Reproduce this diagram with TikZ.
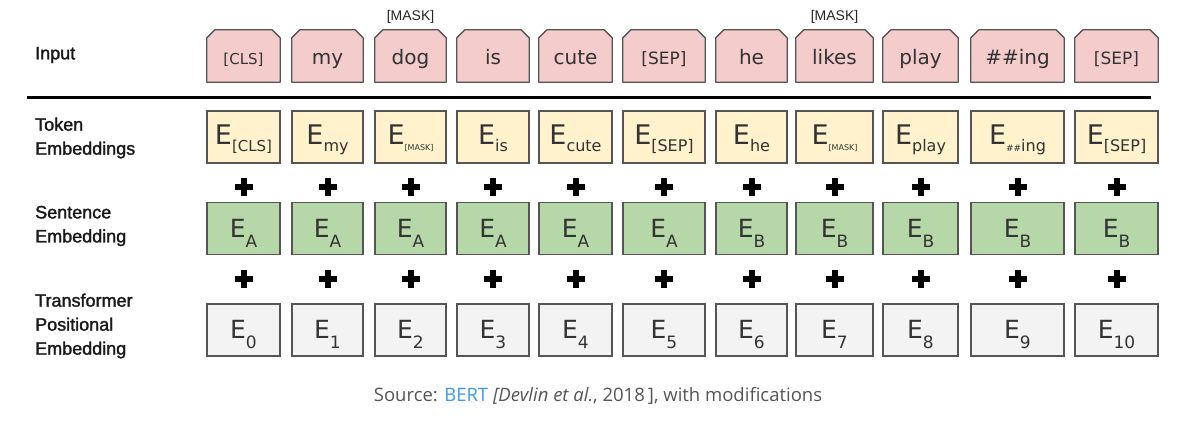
\documentclass[tikz,border=0pt]{standalone}
\usepackage{fontspec}
\setmainfont{Liberation Sans}
\newfontfamily\labfont{Liberation Sans}[FakeBold=1.6]
\newfontfamily\vfont{DejaVu Sans}
\newfontfamily\capfont{Open Sans}
\usetikzlibrary{backgrounds}
\definecolor{pinkf}{HTML}{F4CCCC}
\definecolor{yellf}{HTML}{FFF2CC}
\definecolor{greenf}{HTML}{B6D7A8}
\definecolor{grayf}{HTML}{F3F3F3}
\definecolor{bord}{HTML}{555555}
\definecolor{boxtext}{HTML}{333333}
\definecolor{capgray}{HTML}{555555}
\definecolor{bertblue}{HTML}{3D9BE9}
\newcommand{\Esb}[4]{{\fontsize{#1}{#1}\selectfont E}\raisebox{-#2pt}{\fontsize{#3}{#3}\selectfont #4}}
\newcommand{\tw}[2]{{\fontsize{#1}{#1}\selectfont #2}}
\tikzset{
  basebox/.style={draw=bord, line width=1.3pt, inner sep=0pt, minimum height=52pt, text=boxtext, font=\vfont},
  inbox/.style={inner sep=0pt, minimum height=52pt, text=boxtext, font=\vfont, text height=18pt, text depth=0pt},
  chamf/.style={draw=bord, line width=1.3pt, fill=pinkf, line join=round},
  tokbox/.style={basebox, fill=yellf, text height=16pt, text depth=0pt},
  segbox/.style={basebox, fill=greenf, text height=19pt, text depth=0pt},
  posbox/.style={basebox, fill=grayf, text height=16pt, text depth=0pt},
  rowlabel/.style={anchor=west, align=left, font=\labfont\fontsize{18}{24}\selectfont, text=black!90, inner sep=0pt},
  masklabel/.style={font=\fontsize{14}{14}\selectfont, text=black!85, inner sep=0pt},
}
\begin{document}
\begin{tikzpicture}[x=1pt,y=-1pt]
\begin{pgfonlayer}{background}
\fill[white] (0,0) rectangle (1184,422);
\end{pgfonlayer}
\useasboundingbox (0,0) rectangle (1184,422);
% row labels
\node[rowlabel] (lin) at (35,55) {Input};
\node[rowlabel] (ltok) at (35,138) {Token\\Embeddings};
\node[rowlabel] (lseg) at (35,226) {Sentence\\Embedding};
\node[rowlabel] (lpos) at (35,326) {Transformer\\Positional\\Embedding};
% separator
\draw[line width=3pt] (27,97.5) -- (1151,97.5);
% columns
\foreach \i/\l/\r/\word/\tok/\seg/\pos in {
  1/207/280/{\tw{15}{[CLS]}}/{\Esb{27}{7}{15}{[CLS]}}/A/0,
  2/292/363/{\tw{20}{my}}/{\Esb{27}{7}{16}{my}}/A/1,
  3/375/446/{\tw{20}{dog}}/{\Esb{27}{6}{8}{[MASK]}}/A/2,
  4/457/529/{\tw{20}{is}}/{\Esb{27}{7}{16}{is}}/A/3,
  5/539/612/{\tw{20}{cute}}/{\Esb{27}{7}{16}{cute}}/A/4,
  6/623/705/{\tw{17}{[SEP]}}/{\Esb{27}{7}{16}{[SEP]}}/A/5,
  7/716/787/{\tw{20}{he}}/{\Esb{27}{7}{16}{he}}/B/6,
  8/796/873/{\tw{20}{likes}}/{\Esb{27}{6}{8}{[MASK]}}/B/7,
  9/883/958/{\tw{20}{play}}/{\Esb{27}{7}{16}{play}}/B/8,
  10/971/1064/{\tw{20}{\#\#ing}}/{\Esb{27}{7}{16}{{\fontsize{9}{9}\selectfont\#\#}ing}}/B/9,
  11/1075/1158/{\tw{17}{[SEP]}}/{\Esb{27}{7}{16}{[SEP]}}/B/10}{
  \pgfmathsetmacro{\cx}{(\l+\r)/2}
  \pgfmathsetmacro{\w}{\r-\l}
  \node[inbox, minimum width=\w pt] (in\i) at (\cx,56) {\word};
  \begin{pgfonlayer}{background}
  \draw[chamf] (in\i.south west) -- ([yshift=-8pt]in\i.north west) -- ([xshift=8pt]in\i.north west)
     -- ([xshift=-8pt]in\i.north east) -- ([yshift=-8pt]in\i.north east) -- (in\i.south east) -- cycle;
  \end{pgfonlayer}
  \node[tokbox, minimum width=\w pt] (tok\i) at (\cx,137) {\tok};
  \node[segbox, minimum width=\w pt] (seg\i) at (\cx,228.5) {\Esb{25}{10}{17}{\seg}};
  \node[posbox, minimum width=\w pt] (pos\i) at (\cx,330) {\Esb{25}{10}{17}{\pos}};
  \foreach \py in {187,279}{
    \fill ([xshift=-9pt]\cx,\py-3) rectangle ([xshift=9pt]\cx,\py+3);
    \fill ([xshift=-3pt]\cx,\py-9) rectangle ([xshift=3pt]\cx,\py+9);
  }
}
% mask labels
\node[masklabel] (m1) at (410.5,17) {[MASK]};
\node[masklabel] (m2) at (834.5,17) {[MASK]};
% caption
\node[inner sep=0pt, text=capgray, font=\capfont\fontsize{18.5}{18.5}\selectfont] (cap) at (598,396) {Source: \textcolor{bertblue}{BERT} \textit{[Devlin et al.}, 2018\,], with modifications};
\end{tikzpicture}
\end{document}
